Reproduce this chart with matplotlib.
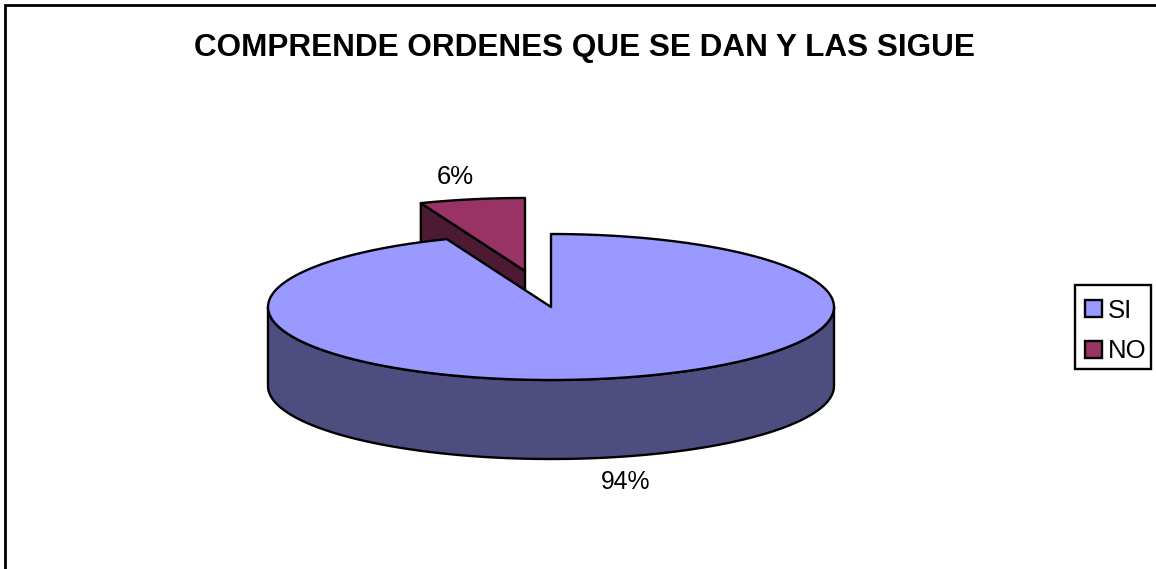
import numpy as np
import matplotlib
matplotlib.use('Agg')
import matplotlib.pyplot as plt
from matplotlib.patches import Polygon, Patch, Rectangle

title = 'COMPRENDE ORDENES QUE SE DAN Y LAS SIGUE'
labels = ['SI', 'NO']
values = [94, 6]
pct_labels = ['94%', '6%']
top_colors = ['#9999FF', '#993366']
side_colors = ['#4D4D80', '#4D1A33']

plt.rcParams['font.family'] = ['Liberation Sans', 'DejaVu Sans']

# pie geometry in picture pixels
cx, cy = 551, 307
rx, ry = 283, 73
depth = 79
explode = (-26, -36)
lw = 1.7


def rim(a0, a1, n=200):
    # angles clockwise from the top of the pie
    t = np.radians(np.linspace(a0, a1, n))
    return np.column_stack([rx * np.sin(t), -ry * np.cos(t)])


fig = plt.figure(figsize=(11.56, 5.69), dpi=100)
ax = fig.add_axes([0, 0, 1, 1])
ax.set_xlim(0, 1156)
ax.set_ylim(569, 0)
ax.axis('off')

# outer frame, only left and top fall inside the picture
ax.plot([5, 5, 1156], [569, 5, 5], color='black', lw=2, solid_joinstyle='miter')

ang_si = 360 * values[0] / sum(values)
c_si = np.array([cx, cy], dtype=float)
c_no = c_si + explode

# NO slice first, the SI slice covers the lower part of its side
rim_no = rim(ang_si, 360)
start = c_no + rim_no[0]
side_no = np.array([start, c_no, c_no + (0, depth), start + (0, depth)])
ax.add_patch(Polygon(side_no, closed=True, fc=side_colors[1], ec='black', lw=lw, joinstyle='round'))
ax.add_patch(Polygon(np.vstack([c_no, c_no + rim_no]), closed=True, fc=top_colors[1], ec='black', lw=lw, joinstyle='round'))

# SI slice, the visible wall is the front half of the rim
front = rim(90, 270)
wall = np.vstack([c_si + front, (c_si + front + (0, depth))[::-1]])
ax.add_patch(Polygon(wall, closed=True, fc=side_colors[0], ec='black', lw=lw, joinstyle='round'))
ax.add_patch(Polygon(np.vstack([c_si, c_si + rim(0, ang_si)]), closed=True, fc=top_colors[0], ec='black', lw=lw, joinstyle='round'))

ax.text(584, 47.5, title, fontsize=22.7, fontweight='bold', ha='center', va='center')
ax.text(626, 482, pct_labels[0], fontsize=17.8, ha='center', va='center')
ax.text(455, 177, pct_labels[1], fontsize=18.5, ha='center', va='center')

# legend box drawn apart, its padding differs in x and y
ax.add_patch(Rectangle((1075, 285), 76, 84, fc='white', ec='black', lw=lw))
handles = [Patch(fc=top_colors[i], ec='black', lw=lw, label=labels[i]) for i in range(2)]
leg = ax.legend(handles=handles, loc='center left', bbox_to_anchor=(1085, 331), bbox_transform=ax.transData,
                fontsize=18.5, frameon=False, handlelength=0.65, handleheight=0.65, handletextpad=0.25,
                labelspacing=0.65, borderpad=0, borderaxespad=0)

fig.savefig('out.png', dpi=100)
